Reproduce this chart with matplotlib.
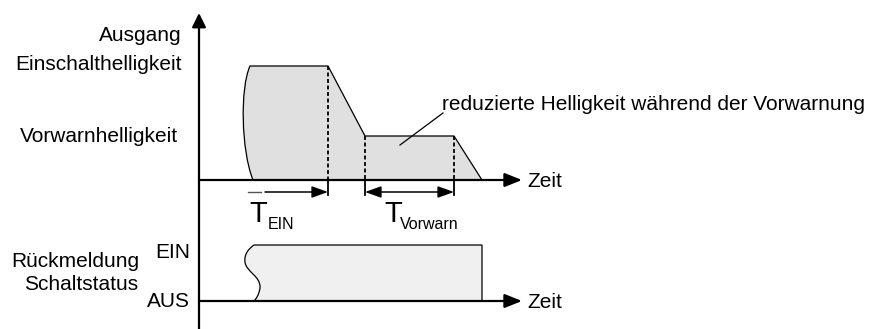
import matplotlib
matplotlib.use('Agg')
import matplotlib.pyplot as plt
from matplotlib.path import Path
from matplotlib.patches import PathPatch

plt.rcParams['font.family'] = ['Liberation Sans', 'DejaVu Sans']

# time markers (time origin at the vertical axis)
t_on = 53
t_ein_end = 129
t_warn_start = 166
t_warn_end = 255
t_off = 283
t_axis_end = 323

# brightness levels of the output (upper diagram)
level_on = 114
level_warn = 44

# switching feedback (lower diagram)
fb_base = -121
fb_on = 56

y_labels_top = ["Ausgang", "Einschalthelligkeit", "Vorwarnhelligkeit"]
y_labels_bottom = ["EIN", "AUS"]
fb_title = ["Rückmeldung", "Schaltstatus"]
note = "reduzierte Helligkeit während der Vorwarnung"

fig = plt.figure(figsize=(8.72, 3.29), dpi=100)
ax = fig.add_axes([0, 0, 1, 1])
ax.set_xlim(-199, 673)
ax.set_ylim(-149, 180)
ax.axis('off')

fs = 15
k = 'black'

# upper shape: wavy left edge, full brightness, ramp, warn plateau, ramp off
verts = [(t_on + 1, 0), (t_off, 0), (t_warn_end, level_warn), (t_warn_start, level_warn),
         (t_ein_end, level_on), (t_on - 2, level_on),
         (t_on - 12, level_on - 22), (t_on - 11, 30), (t_on + 1, 0)]
codes = [Path.MOVETO, Path.LINETO, Path.LINETO, Path.LINETO, Path.LINETO, Path.LINETO,
         Path.CURVE4, Path.CURVE4, Path.CURVE4]
ax.add_patch(PathPatch(Path(verts, codes), facecolor='#e0e0e0', edgecolor=k, lw=0.9, zorder=1))

# lower shape: feedback EIN
top = fb_base + fb_on
verts = [(t_on + 2, fb_base), (t_off, fb_base), (t_off, top), (t_on + 2, top),
         (t_on - 4, top - 4), (t_on - 8, top - 10), (t_on - 7, top - 17),
         (t_on - 6, top - 27), (t_on + 9, top - 31), (t_on + 8, top - 43),
         (t_on + 7, top - 50), (t_on + 4, fb_base + 2), (t_on + 2, fb_base)]
codes = [Path.MOVETO, Path.LINETO, Path.LINETO, Path.LINETO,
         Path.CURVE4, Path.CURVE4, Path.CURVE4,
         Path.CURVE4, Path.CURVE4, Path.CURVE4,
         Path.CURVE4, Path.CURVE4, Path.CURVE4]
ax.add_patch(PathPatch(Path(verts, codes), facecolor='#f0f0f0', edgecolor=k, lw=0.9, zorder=1))

# dashed markers
for t, lev in [(t_ein_end, level_on), (t_warn_start, level_warn), (t_warn_end, level_warn)]:
    ax.plot([t, t], [lev, 0], color=k, lw=1.3, dashes=(2.2, 1.4), zorder=2)
    ax.plot([t, t], [0, -15], color=k, lw=1.3, zorder=2)

# axes with arrows
ax.annotate('', xy=(0, 167), xytext=(0, -149),
            arrowprops=dict(arrowstyle='-|>,head_length=0.85,head_width=0.42', mutation_scale=10,
                            lw=1.6, color=k, shrinkA=0, shrinkB=0), zorder=3)
for yb in [0, fb_base]:
    ax.annotate('', xy=(t_axis_end, yb), xytext=(0, yb),
                arrowprops=dict(arrowstyle='-|>,head_length=1.0,head_width=0.4', mutation_scale=10.5,
                                lw=1.6, color=k, shrinkA=0, shrinkB=0), zorder=3)
    ax.text(t_axis_end + 5, yb - 7, "Zeit", fontsize=fs, ha='left', va='baseline')

# time span arrows
ax.plot([t_on - 4, t_on + 9], [-12, -12], color='#555555', lw=1.0)
ax.annotate('', xy=(t_ein_end, -12), xytext=(t_on + 13, -12),
            arrowprops=dict(arrowstyle='-|>,head_length=0.7,head_width=0.25', mutation_scale=14,
                            lw=1.1, color=k, shrinkA=0, shrinkB=0))
ax.annotate('', xy=(t_warn_end, -12), xytext=(t_warn_start, -12),
            arrowprops=dict(arrowstyle='<|-|>,head_length=0.7,head_width=0.25', mutation_scale=14,
                            lw=1.1, color=k, shrinkA=0, shrinkB=0))

ax.text(t_on - 3, -42, "T", fontsize=21, ha='left', va='baseline')
ax.text(t_on + 16, -49, "EIN", fontsize=11.5, ha='left', va='baseline')
ax.text(t_warn_start + 19, -42, "T", fontsize=21, ha='left', va='baseline')
ax.text(t_warn_start + 35, -49, "Vorwarn", fontsize=11.5, ha='left', va='baseline')

# leader line and note
ax.plot([201, 244], [35, 67], color=k, lw=0.9)
ax.text(243, 70, note, fontsize=fs, ha='left', va='baseline')

# labels
ax.text(-17, 139, y_labels_top[0], fontsize=fs, ha='right', va='baseline')
ax.text(-17, 110, y_labels_top[1], fontsize=fs, ha='right', va='baseline')
ax.text(-21, 38, y_labels_top[2], fontsize=fs, ha='right', va='baseline')
ax.text(-9, -78, y_labels_bottom[0], fontsize=fs, ha='right', va='baseline')
ax.text(-9, -127, y_labels_bottom[1], fontsize=fs, ha='right', va='baseline')
ax.text(-124, -87, fb_title[0], fontsize=fs, ha='center', va='baseline')
ax.text(-118, -110, fb_title[1], fontsize=fs, ha='center', va='baseline')

plt.savefig('out.png', dpi=100)
